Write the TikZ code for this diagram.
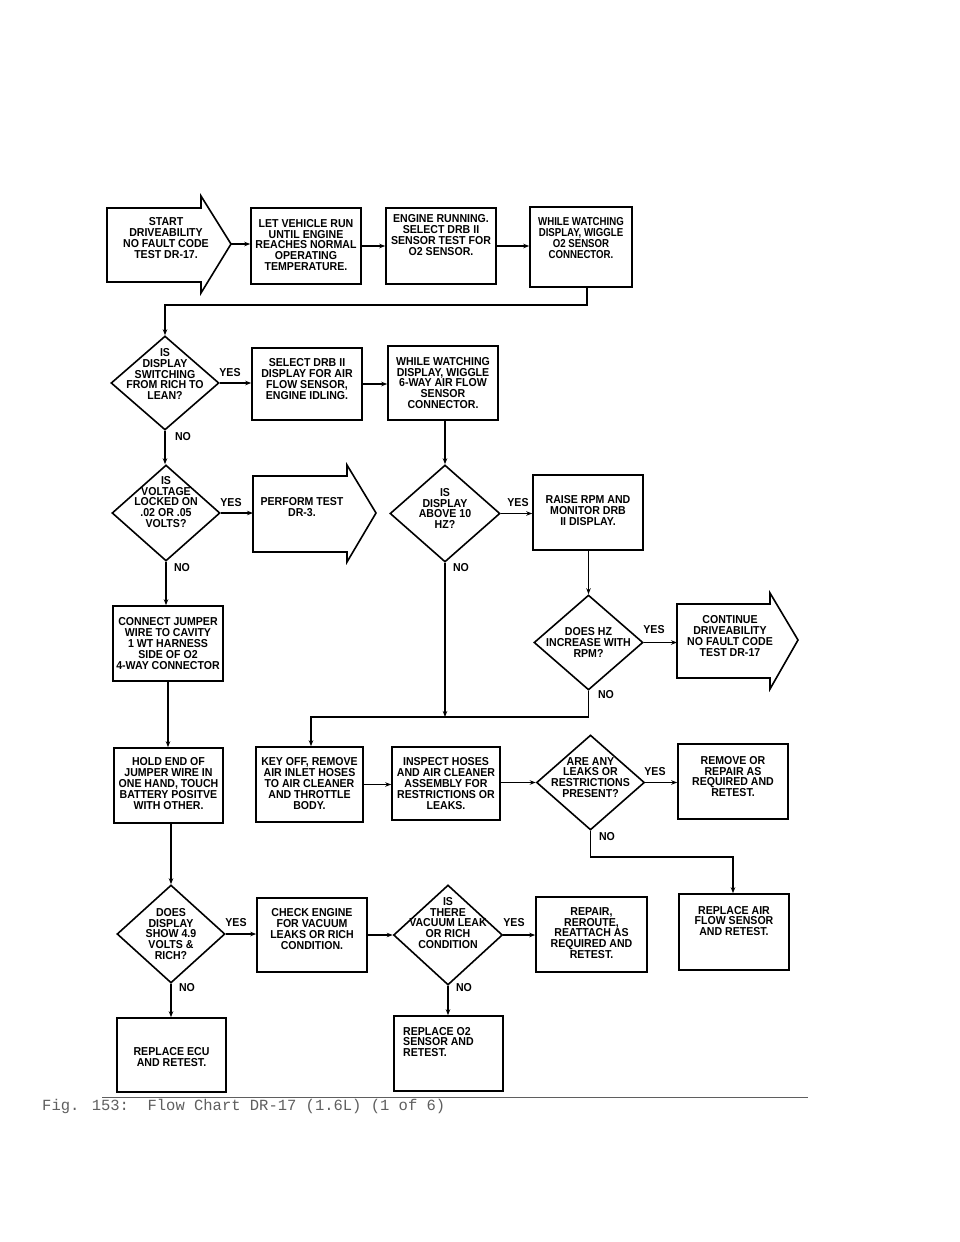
\documentclass[tikz,border=0pt]{standalone}
\usepackage{fontspec}
\setmainfont{Liberation Sans}[FakeStretch=0.92]
\newfontfamily\narrowfont{Liberation Sans}[FakeStretch=0.84]
\newfontfamily\capfont{Liberation Mono}
\usetikzlibrary{shapes.geometric, arrows.meta, calc}
\definecolor{capgray}{RGB}{95,95,95}
\newcommand\mkbox[7]{\node[box, minimum width=#4pt, minimum height=#5pt,
  label={[txt, yshift=#6pt]center:{#7}}] (#1) at (#2,#3) {};}
\newcommand\mkdia[7]{\node[dia, minimum width=#4pt, minimum height=#5pt,
  label={[txt, yshift=#6pt]center:{#7}}] (#1) at (#2,#3) {};}
\begin{document}
\begin{tikzpicture}[x=1pt,y=-1pt,
  box/.style={draw, line width=1.6pt, rectangle, inner sep=0pt},
  dia/.style={draw, line width=1.6pt, diamond, inner sep=0pt, line join=miter},
  txt/.style={font=\fontsize{11.5}{10.9}\selectfont\bfseries, align=center, inner sep=0pt},
  lab/.style={font=\fontsize{11.5}{10.9}\selectfont\bfseries, inner sep=0pt},
  conn/.style={line width=1.2pt, -{Stealth[length=6pt,width=4.5pt]}},
  plain/.style={line width=1.2pt},
  bigarrow/.style={draw, line width=1.6pt, line join=miter}
]
\useasboundingbox (0,0) rectangle (960,1242);
\fill[white] (0,0) rectangle (960,1242);

% ---------- row 1 ----------
\draw[bigarrow] (107,208) -- (201,208) -- (201,196) -- (231,244) -- (201,293) -- (201,282) -- (107,282) -- cycle;
\node[txt] (start) at (166,238) {START\\DRIVEABILITY\\NO FAULT CODE\\TEST DR-17.};
\coordinate (starttip) at (231,244);

\mkbox{b2}{306}{246}{110}{76}{1}{LET VEHICLE RUN\\UNTIL ENGINE\\REACHES NORMAL\\OPERATING\\TEMPERATURE.}
\mkbox{b3}{441}{246}{110}{76}{11}{ENGINE RUNNING.\\SELECT DRB II\\SENSOR TEST FOR\\O2 SENSOR.}
\node[box, minimum width=102pt, minimum height=80pt,
  label={[txt, yshift=9pt, font=\fontsize{11.5}{10.9}\narrowfont\bfseries]center:{WHILE WATCHING\\DISPLAY, WIGGLE\\O2 SENSOR\\CONNECTOR.}}] (b4) at (581,247) {};

\draw[conn] (starttip) -- (starttip -| b2.west);
\draw[conn] (b2.east) -- (b3.west);
\draw[conn] (b3.east) -- (b3.east -| b4.west);

% ---------- row 2 ----------
\mkdia{d1}{165}{383}{108}{94}{9}{IS\\DISPLAY\\SWITCHING\\FROM RICH TO\\LEAN?}
\mkbox{b5}{307}{384}{110}{72}{5}{SELECT DRB II\\DISPLAY FOR AIR\\FLOW SENSOR,\\ENGINE IDLING.}
\mkbox{b6}{443}{383}{110}{74}{0}{WHILE WATCHING\\DISPLAY, WIGGLE\\6-WAY AIR FLOW\\SENSOR\\CONNECTOR.}

\coordinate (j1) at (165,305);
\draw[conn] ([xshift=6pt]b4.south) |- (j1) -- (d1.north);
\draw[conn] (d1.east) -- (d1.east -| b5.west);
\draw[conn] (b5.east) -- (b5.east -| b6.west);
\node[lab] (yes1) at (230,373) {YES};
\node[lab] (no1) at (183,437) {NO};

% ---------- row 3 ----------
\mkdia{d2}{166}{513}{108}{96}{11}{IS\\VOLTAGE\\LOCKED ON\\.02 OR .05\\VOLTS?}
\draw[bigarrow] (253,476) -- (347,476) -- (347,465) -- (376,513) -- (347,562) -- (347,552) -- (253,552) -- cycle;
\node[txt] (perform) at (302,507) {PERFORM TEST\\DR-3.};
\coordinate (perfL) at (253,513);
\mkdia{d3}{445}{513.5}{110}{97}{5}{IS\\DISPLAY\\ABOVE 10\\HZ?}
\mkbox{b7}{588}{512.5}{110}{75}{2}{RAISE RPM AND\\MONITOR DRB\\II DISPLAY.}

\draw[conn] (d1.south) -- (d1.south |- d2.north);
\draw[conn] (d2.east) -- (perfL);
\draw[conn] (d3.north |- b6.south) -- (d3.north);
\draw[conn] (d3.east) -- (d3.east -| b7.west);
\node[lab] (yes2) at (231,503) {YES};
\node[lab] (no2) at (182,568) {NO};
\node[lab] (yes3) at (518,503) {YES};
\node[lab] (no3) at (461,568) {NO};

% ---------- row 4 ----------
\mkbox{b8}{168}{643.5}{110}{75}{0}{CONNECT JUMPER\\WIRE TO CAVITY\\1 WT HARNESS\\SIDE OF O2\\4-WAY CONNECTOR}
\mkdia{d4}{588.5}{642.5}{109}{95}{0}{DOES HZ\\INCREASE WITH\\RPM?}
\draw[bigarrow] (677,604) -- (770,604) -- (770,593) -- (798,640) -- (770,689) -- (770,678) -- (677,678) -- cycle;
\node[txt] (continue) at (730,636) {CONTINUE\\DRIVEABILITY\\NO FAULT CODE\\TEST DR-17};
\coordinate (contL) at (677,640);

\draw[conn] (d2.south) -- (d2.south |- b8.north);
\draw[conn] (d4.north |- b7.south) -- (d4.north);
\draw[conn] (d4.east) -- (d4.east -| contL);
\node[lab] (yes4) at (654,630) {YES};
\node[lab] (no4) at (606,695) {NO};

% ---------- row 5 ----------
\mkbox{b9}{168.5}{785.5}{109}{75}{2}{HOLD END OF\\JUMPER WIRE IN\\ONE HAND, TOUCH\\BATTERY POSITVE\\WITH OTHER.}
\mkbox{b10}{309.5}{784.5}{107}{75}{1}{KEY OFF, REMOVE\\AIR INLET HOSES\\TO AIR CLEANER\\AND THROTTLE\\BODY.}
\mkbox{b11}{446}{783.5}{108}{73}{0}{INSPECT HOSES\\AND AIR CLEANER\\ASSEMBLY FOR\\RESTRICTIONS OR\\LEAKS.}
\mkdia{d5}{590.5}{782.5}{108}{95}{5}{ARE ANY\\LEAKS OR\\RESTRICTIONS\\PRESENT?}
\mkbox{b12}{733}{781.5}{110}{75}{5}{REMOVE OR\\REPAIR AS\\REQUIRED AND\\RETEST.}

\coordinate (j2) at (311,717);
\draw[conn] (d4.south) |- (j2) -- (j2 |- b10.north);
\draw[conn] (d3.south) -- (d3.south |- j2);
\draw[conn] (b8.south) -- (b8.south |- b9.north);
\draw[conn] (b10.east) -- (b10.east -| b11.west);
\draw[conn] (b11.east |- d5.west) -- (d5.west);
\draw[conn] (d5.east) -- (d5.east -| b12.west);
\node[lab] (yes5) at (655,772) {YES};
\node[lab] (no5) at (607,837) {NO};

% ---------- row 6 ----------
\mkdia{d6}{171}{934}{108}{98}{0}{DOES\\DISPLAY\\SHOW 4.9\\VOLTS \&\\RICH?}
\mkbox{b13}{312}{935}{110}{74}{6}{CHECK ENGINE\\FOR VACUUM\\LEAKS OR RICH\\CONDITION.}
\mkdia{d7}{448}{935}{109}{100}{12}{IS\\THERE\\VACUUM LEAK\\OR RICH\\CONDITION}
\mkbox{b14}{591.5}{934.5}{111}{75}{1.5}{REPAIR,\\REROUTE,\\REATTACH AS\\REQUIRED AND\\RETEST.}
\mkbox{b15}{734}{932}{110}{76}{11}{REPLACE AIR\\FLOW SENSOR\\AND RETEST.}

\coordinate (j3) at (733,857);
\draw[conn] (d5.south) |- (j3) -- (j3 |- b15.north);
\draw[conn] (d6.north |- b9.south) -- (d6.north);
\draw[conn] (d6.east) -- (d6.east -| b13.west);
\draw[conn] (b13.east |- d7.west) -- (d7.west);
\draw[conn] (d7.east) -- (d7.east -| b14.west);
\node[lab] (yes6) at (236,923) {YES};
\node[lab] (no6) at (187,988) {NO};
\node[lab] (yes7) at (514,923) {YES};
\node[lab] (no7) at (464,988) {NO};

% ---------- row 7 ----------
\mkbox{b16}{171.5}{1055}{109}{74}{-2}{REPLACE ECU\\AND RETEST.}
\node[box, minimum width=109pt, minimum height=75pt,
  label={[txt, align=left, yshift=11.5pt, xshift=-10pt]center:{REPLACE O2\\SENSOR AND\\RETEST.}}] (b17) at (448.5,1053.5) {};
\draw[conn] (d6.south) -- (d6.south |- b16.north);
\draw[conn] (d7.south) -- (d7.south |- b17.north);

% ---------- caption ----------
\draw[line width=0.8pt, capgray] (102,1097) -- (808,1097);
\node[anchor=base west, inner sep=0pt, text=capgray, font=\fontsize{15.5}{16}\capfont] (caption) at (42,1110) {Fig. 153:\ \ Flow Chart DR-17 (1.6L) (1 of 6)};
\end{tikzpicture}
\end{document}
